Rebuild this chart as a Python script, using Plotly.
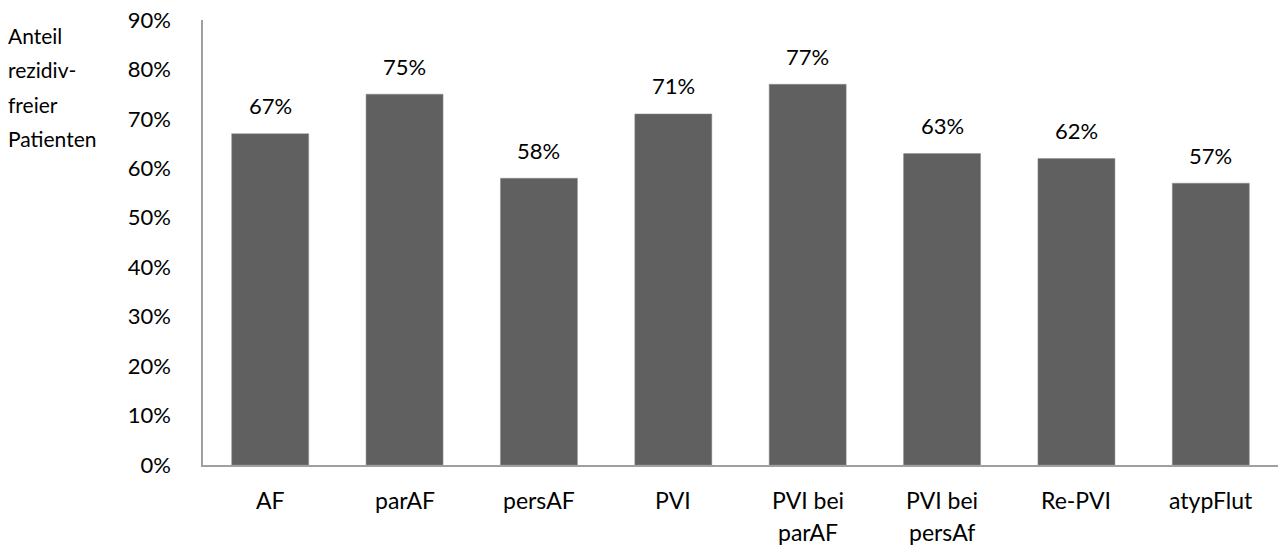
import plotly.graph_objects as go

# Recurrence-free share by patient group
categories = ["AF", "parAF", "persAF", "PVI", "PVI bei parAF", "PVI bei persAf", "Re-PVI", "atypFlut"]
label_lines = [["AF"], ["parAF"], ["persAF"], ["PVI"], ["PVI bei", "parAF"], ["PVI bei", "persAf"], ["Re-PVI"], ["atypFlut"]]
values = [0.67, 0.75, 0.58, 0.71, 0.77, 0.63, 0.62, 0.57]
y_ticks = [0.0, 0.1, 0.2, 0.3, 0.4, 0.5, 0.6, 0.7, 0.8, 0.9]
y_title_lines = ["Anteil", "rezidiv-", "freier", "Patienten"]

FONT = "Lato, Open Sans, sans-serif"
W, H = 1279, 545
ML, MR, MT, MB = 203, 1, 20, 80

fig = go.Figure(
    go.Bar(
        x=categories,
        y=values,
        marker=dict(color="#606060", line=dict(color="#8c8c8c", width=0.5)),
        width=0.573,
        hoverinfo="x+y",
    )
)

# Value labels floating above each bar
for cat, v in zip(categories, values):
    fig.add_annotation(
        x=cat, xref="x", y=v, yref="y",
        text=f"{round(v * 100)}%", showarrow=False,
        yanchor="middle", yshift=28,
        font=dict(family=FONT, size=22, color="#000000"),
    )

# Category labels below the axis, with generous line spacing
for cat, lines in zip(categories, label_lines):
    for i, line in enumerate(lines):
        fig.add_annotation(
            x=cat, xref="x", y=0, yref="y",
            text=line, showarrow=False,
            yanchor="middle", yshift=-35 - 32 * i,
            font=dict(family=FONT, size=23, color="#000000"),
        )

# Axis title, stacked word by word at the top left
for i, line in enumerate(y_title_lines):
    fig.add_annotation(
        x=-ML / (W - ML - MR), xref="paper", y=1, yref="paper",
        text=line, showarrow=False,
        xanchor="left", yanchor="middle",
        xshift=6, yshift=-15 - 34.5 * i,
        font=dict(family=FONT, size=21, color="#000000"),
    )

fig.update_layout(
    width=W, height=H,
    margin=dict(l=ML, r=MR, t=MT, b=MB),
    paper_bgcolor="white", plot_bgcolor="white",
    showlegend=False,
    bargap=0.427,
    xaxis=dict(
        showticklabels=False, showline=True, linecolor="#a0a0a0", linewidth=1.5,
        ticks="", showgrid=False, zeroline=False,
    ),
    yaxis=dict(
        range=[0, 0.9], tickvals=y_ticks,
        ticktext=[f"{round(t * 100)}%" for t in y_ticks],
        showline=True, linecolor="#a0a0a0", linewidth=1.5,
        showgrid=False, zeroline=False, ticks="",
        ticklabelstandoff=26,
        tickfont=dict(family=FONT, size=22, color="#000000"),
    ),
)

fig.write_html("out.html")
